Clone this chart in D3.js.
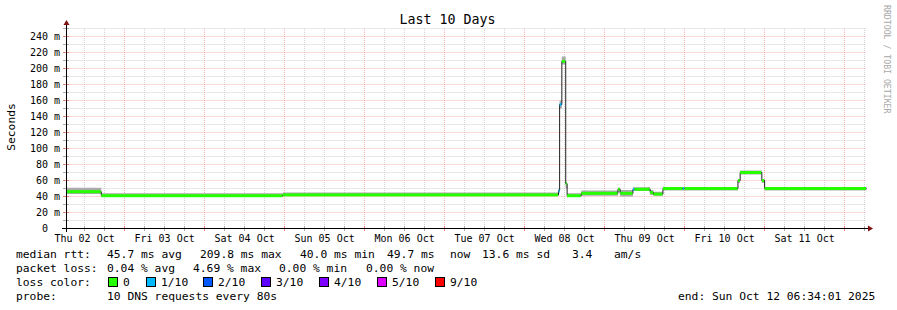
<!DOCTYPE html>
<html>
<head>
<meta charset="utf-8">
<script src="https://cdn.jsdelivr.net/npm/d3@7"></script>
<style>
  body { margin: 0; background: #fff; }
  text { font-family: "DejaVu Sans Mono", monospace; fill: #000; }
</style>
</head>
<body>
<div id="canvas"></div>
<script>
// median rtt steps (start of each step, local time)
const segStart = [
  "2025-10-02T06:34:01", "2025-10-02T17:00:00", "2025-10-04T23:30:00",
  "2025-10-08T10:10:00", "2025-10-08T10:30:00", "2025-10-08T11:10:00",
  "2025-10-08T12:20:00", "2025-10-08T12:45:00", "2025-10-08T17:00:00",
  "2025-10-09T04:00:00", "2025-10-09T04:40:00", "2025-10-09T08:30:00",
  "2025-10-09T09:00:00", "2025-10-09T13:40:00", "2025-10-09T14:40:00",
  "2025-10-09T17:30:00", "2025-10-09T23:30:00", "2025-10-10T00:00:00",
  "2025-10-10T16:00:00", "2025-10-10T16:40:00", "2025-10-10T23:10:00",
  "2025-10-11T00:00:00"
];
const medianMs = [46, 41, 42, 47, 155, 209, 56, 41, 44, 49, 44, 49, 49, 45, 43, 50, 50, 50, 60, 70, 60, 50];
const smokeLoMs = [43, 39.5, 40.5, 44, 150, 205, 50, 39.5, 41, 46, 40, 47, 47, 42, 41, 47.5, 47.5, 47.5, 57, 67.5, 57, 47.5];
const smokeHiMs = [51, 44, 45, 50, 160, 215, 58, 44, 47.5, 51, 48, 51.5, 51.5, 48, 46, 52, 52, 52, 62, 72.5, 62, 52];
const lossPings = [0, 0, 0, 1, 1, 0, 0, 0, 0, 0, 0, 1, 0, 0, 0, 0, 1, 0, 0, 0, 0, 0];
const endTime = "2025-10-12T06:34:01";

const yTicks = [0, 20, 40, 60, 80, 100, 120, 140, 160, 180, 200, 220, 240];
const lossLabels = ["0", "1/10", "2/10", "3/10", "4/10", "5/10", "9/10"];
const lossColors = ["#26ff00", "#00b8ff", "#0059ff", "#5e00ff", "#7e00ff", "#dd00ff", "#ff0000"];

const statsRtt = ["median rtt:", "45.7 ms avg", "209.8 ms max", "40.0 ms min", "49.7 ms", "now", "13.6 ms sd", "3.4", "am/s"];
const statsLoss = ["packet loss:", "0.04 % avg", "4.69 % max", "0.00 % min", "0.00 % now"];

const width = 897, height = 310;
const svg = d3.select("#canvas").append("svg")
  .attr("width", width).attr("height", height);

const t0 = new Date(segStart[0]), t1 = new Date(endTime);
const x = d3.scaleTime().domain([t0, t1]).range([66.5, 866.5]);
const y = d3.scaleLinear().domain([0, 250]).range([228.5, 28.5]);
const px = v => Math.floor(v) + 0.5;

const data = segStart.map((s, i) => ({
  t: new Date(s), med: medianMs[i], lo: smokeLoMs[i], hi: smokeHiMs[i], loss: lossPings[i]
}));
data.forEach((d, i) => d.t2 = i < data.length - 1 ? data[i + 1].t : t1);
const last = data[data.length - 1];
const stepData = data.concat([{ t: t1, med: last.med, lo: last.lo, hi: last.hi }]);

function lossColor(k) {
  if (k <= 4) return lossColors[k];
  if (k <= 8) return lossColors[5];
  return lossColors[6];
}

// grid
const grid = svg.append("g");
const minorY = d3.range(0, 251, 10).filter(v => v % 20 !== 0);
grid.selectAll(".ymin").data(minorY).enter().append("line")
  .attr("x1", 66.5).attr("x2", 866.5)
  .attr("y1", d => px(y(d))).attr("y2", d => px(y(d)))
  .attr("stroke", "#d2d2d2").attr("stroke-dasharray", "1,1");
const hours = d3.timeHour.every(6).range(t0, t1).filter(d => d.getHours() !== 0);
grid.selectAll(".xmin").data(hours).enter().append("line")
  .attr("x1", d => px(x(d))).attr("x2", d => px(x(d)))
  .attr("y1", 28).attr("y2", 228)
  .attr("stroke", "#d2d2d2").attr("stroke-dasharray", "1,1");
grid.selectAll(".ymaj").data(yTicks.slice(1)).enter().append("line")
  .attr("x1", 66.5).attr("x2", 866.5)
  .attr("y1", d => px(y(d))).attr("y2", d => px(y(d)))
  .attr("stroke", "#f5b0b0").attr("stroke-dasharray", "1,1");
const days = d3.timeDay.range(t0, t1);
grid.selectAll(".xmaj").data(days).enter().append("line")
  .attr("x1", d => px(x(d))).attr("x2", d => px(x(d)))
  .attr("y1", 28).attr("y2", 228)
  .attr("stroke", "#f5b0b0").attr("stroke-dasharray", "1,1");

// smoke
svg.append("path").datum(stepData)
  .attr("d", d3.area().curve(d3.curveStepAfter)
    .x(d => x(d.t)).y0(d => y(d.lo)).y1(d => y(d.hi)))
  .attr("fill", "#aaaaaa");

// median line
svg.append("path").datum(stepData)
  .attr("d", d3.line().curve(d3.curveStepAfter).x(d => x(d.t)).y(d => y(d.med)))
  .attr("fill", "none").attr("stroke", "#202020").attr("stroke-width", 1);

svg.selectAll(".loss").data(data).enter().append("rect")
  .attr("x", d => x(d.t)).attr("width", d => Math.max(1, x(d.t2) - x(d.t) - 0.5))
  .attr("y", d => y(d.med) - 1.5).attr("height", 3)
  .attr("fill", d => lossColor(d.loss));

// axes
const ax = svg.append("g");
ax.selectAll(".xt").data(hours).enter().append("line")
  .attr("x1", d => px(x(d))).attr("x2", d => px(x(d))).attr("y1", 226).attr("y2", 231)
  .attr("stroke", "#aaaaaa");
ax.selectAll(".xT").data(days).enter().append("line")
  .attr("x1", d => px(x(d))).attr("x2", d => px(x(d))).attr("y1", 226).attr("y2", 231)
  .attr("stroke", "#f08080");
ax.selectAll(".yt").data(minorY).enter().append("line")
  .attr("x1", 63).attr("x2", 69).attr("y1", d => px(y(d))).attr("y2", d => px(y(d)))
  .attr("stroke", "#aaaaaa");
ax.selectAll(".yT").data(yTicks.slice(1)).enter().append("line")
  .attr("x1", 63).attr("x2", 69).attr("y1", d => px(y(d))).attr("y2", d => px(y(d)))
  .attr("stroke", "#f08080");
ax.append("line").attr("x1", 62).attr("x2", 868).attr("y1", 228.5).attr("y2", 228.5).attr("stroke", "#000");
ax.append("line").attr("x1", 66.5).attr("x2", 66.5).attr("y1", 232).attr("y2", 24).attr("stroke", "#000");
ax.append("path").attr("d", "M868,225.5 L873,228.5 L868,231.5 Z").attr("fill", "#7f1010");
ax.append("path").attr("d", "M63.5,25 L66.5,20 L69.5,25 Z").attr("fill", "#7f1010");

// tick labels: day names centred on noon
const fmt = d3.timeFormat("%a %d %b");
svg.selectAll(".xl").data(days).enter().append("text")
  .attr("x", d => x(d3.timeHour.offset(d, -12)))
  .attr("y", 241.5).attr("text-anchor", "middle").style("font-size", "10px")
  .text(d => fmt(d3.timeDay.offset(d, -1)));
svg.selectAll(".yl").data(yTicks).enter().append("text")
  .attr("x", 48).attr("y", d => y(d) + 3.5).attr("text-anchor", "end").style("font-size", "10px")
  .text(d => d);
svg.selectAll(".ym").data(yTicks.slice(1)).enter().append("text")
  .attr("x", 54).attr("y", d => y(d) + 3.5).style("font-size", "10px")
  .text("m");

// title and labels
svg.append("text").attr("x", 447.5).attr("y", 24).attr("text-anchor", "middle")
  .style("font-size", "13.3px").text("Last 10 Days");
svg.append("text").attr("transform", "translate(15,127) rotate(-90)").attr("text-anchor", "middle")
  .style("font-size", "11.3px").text("Seconds");
svg.append("text").attr("transform", "translate(884,5) rotate(90)")
  .style("font-size", "8.2px").style("fill", "#a8a8a8").text("RRDTOOL / TOBI OETIKER");

// legend
const lf = "11.3px";
const rttX = [16, 107, 200, 300, 387, 450, 482, 572, 614];
statsRtt.forEach((s, i) => svg.append("text").attr("x", rttX[i]).attr("y", 258).style("font-size", lf).text(s));
const lossX = [16, 107, 193, 279, 366];
statsLoss.forEach((s, i) => svg.append("text").attr("x", lossX[i]).attr("y", 272).style("font-size", lf).text(s));
svg.append("text").attr("x", 16).attr("y", 286).style("font-size", lf).text("loss color:");
const boxX = [108, 146, 203, 261, 319, 377, 435];
lossLabels.forEach((s, i) => {
  svg.append("rect").attr("x", boxX[i] + 0.5).attr("y", 277.5).attr("width", 9).attr("height", 9)
    .attr("fill", lossColors[i]).attr("stroke", "#000");
  svg.append("text").attr("x", boxX[i] + 15).attr("y", 286).style("font-size", lf).text(s);
});
svg.append("text").attr("x", 16).attr("y", 300).style("font-size", lf).text("probe:");
svg.append("text").attr("x", 107).attr("y", 300).style("font-size", lf).text("10 DNS requests every 80s");
svg.append("text").attr("x", 678).attr("y", 300).style("font-size", lf).text("end: Sun Oct 12 06:34:01 2025");
</script>
</body>
</html>
